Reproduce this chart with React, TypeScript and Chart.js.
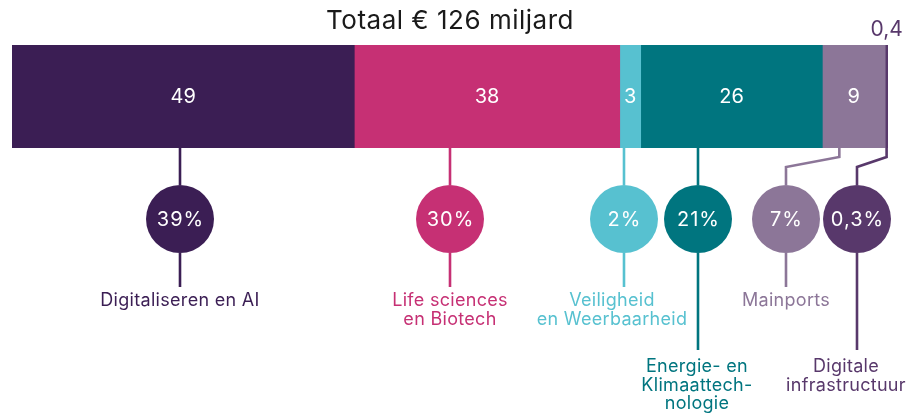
import React, { useEffect, useRef } from "react";
import { Chart, registerables } from "chart.js";

Chart.register(...registerables);

const title = "Totaal € 126 miljard";
const categories = [
  "Digitaliseren en AI",
  "Life sciences en Biotech",
  "Veiligheid en Weerbaarheid",
  "Energie- en Klimaattechnologie",
  "Mainports",
  "Digitale infrastructuur",
];
const values = [49, 38, 3, 26, 9, 0.4];
const valueLabels = ["49", "38", "3", "26", "9", "0,4"];
const shareLabels = ["39%", "30%", "2%", "21%", "7%", "0,3%"];
const labelLines = [
  ["Digitaliseren en AI"],
  ["Life sciences", "en Biotech"],
  ["Veiligheid", "en Weerbaarheid"],
  ["Energie- en", "Klimaattech-", "nologie"],
  ["Mainports"],
  ["Digitale", "infrastructuur"],
];
const colors = ["#3b1e54", "#c63074", "#57c1d0", "#00757f", "#8c7698", "#58386b"];

// layout (pixel positions of callouts)
const circleX = [180, 450, 624, 698, 786, 857];
const labelX = [180, 450, 612, 697, 786, 846];
const lowLabel = [false, false, false, true, false, true];

const FONT = "Inter, 'Noto Sans', sans-serif";

const calloutPlugin = {
  id: "callouts",
  afterDraw(chart: any) {
    const ctx = chart.ctx as CanvasRenderingContext2D;
    const area = chart.chartArea;
    const c: any = ctx;
    ctx.save();
    // title
    ctx.fillStyle = "#1a1a1a";
    ctx.font = `400 26px ${FONT}`;
    c.letterSpacing = "0.5px";
    ctx.textAlign = "center";
    ctx.textBaseline = "middle";
    ctx.fillText(title, 450, 21);
    c.letterSpacing = "0px";

    const circleY = 219;
    const r = 34;
    for (let i = 0; i < values.length; i++) {
      const el = chart.getDatasetMeta(i).data[0];
      const p = el.getProps(["x", "base", "y", "height"], true);
      const left = Math.min(p.x, p.base);
      const right = Math.max(p.x, p.base);
      const center = (left + right) / 2;
      const w = right - left;
      const col = colors[i];

      // value label
      ctx.textAlign = "center";
      ctx.textBaseline = "middle";
      if (w > 15) {
        ctx.font = `400 20px ${FONT}`;
        ctx.fillStyle = "#ffffff";
        ctx.fillText(valueLabels[i], center, (area.top + area.bottom) / 2);
      } else {
        ctx.font = `400 21px ${FONT}`;
        ctx.fillStyle = col;
        ctx.fillText(valueLabels[i], center, area.top - 15);
      }

      // leader line
      const cx = circleX[i];
      ctx.strokeStyle = col;
      ctx.lineWidth = 2.6;
      ctx.lineJoin = "miter";
      ctx.beginPath();
      if (cx >= left && cx <= right) {
        ctx.moveTo(cx, area.bottom);
        ctx.lineTo(cx, circleY - r);
      } else {
        const sx = Math.min(center, left + 17);
        ctx.moveTo(sx, area.bottom);
        ctx.lineTo(sx, area.bottom + 9);
        ctx.lineTo(cx, area.bottom + 19);
        ctx.lineTo(cx, circleY - r);
      }
      const bottomY = lowLabel[i] ? 350 : 287;
      ctx.moveTo(cx, circleY + r);
      ctx.lineTo(cx, bottomY);
      ctx.stroke();

      // circle
      ctx.fillStyle = col;
      ctx.beginPath();
      ctx.arc(cx, circleY, r, 0, Math.PI * 2);
      ctx.fill();
      ctx.fillStyle = "#ffffff";
      ctx.font = `400 20px ${FONT}`;
      c.letterSpacing = "1px";
      ctx.fillText(shareLabels[i], cx + 0.5, circleY + 1);
      c.letterSpacing = "0px";

      // category label
      ctx.fillStyle = col;
      ctx.font = `400 18px ${FONT}`;
      c.letterSpacing = "0.3px";
      const startY = lowLabel[i] ? 367 : 301;
      labelLines[i].forEach((line, k) => {
        ctx.fillText(line, labelX[i], startY + k * 18.5);
      });
      c.letterSpacing = "0px";
    }
    ctx.restore();
  },
};

export default function App() {
  const ref = useRef<HTMLCanvasElement>(null);
  useEffect(() => {
    document.body.style.margin = "0";
    const total = values.reduce((a, b) => a + b, 0);
    const chart = new Chart(ref.current!, {
      type: "bar",
      data: {
        labels: [""],
        datasets: values.map((v, i) => ({
          label: categories[i],
          data: [v],
          backgroundColor: colors[i],
          borderWidth: 0,
          barPercentage: 1,
          categoryPercentage: 1,
        })),
      },
      options: {
        indexAxis: "y",
        animation: false,
        responsive: false,
        maintainAspectRatio: false,
        layout: { padding: { left: 12, right: 27, top: 45, bottom: 266 } },
        scales: {
          x: { stacked: true, min: 0, max: total, display: false },
          y: { stacked: true, display: false },
        },
        plugins: { legend: { display: false }, tooltip: { enabled: false } },
      },
      plugins: [calloutPlugin],
    });
    return () => chart.destroy();
  }, []);
  return (
    <div style={{ width: 915, height: 414, position: "relative", background: "#fff" }}>
      <canvas ref={ref} width={915} height={414} style={{ display: "block" }} />
    </div>
  );
}
